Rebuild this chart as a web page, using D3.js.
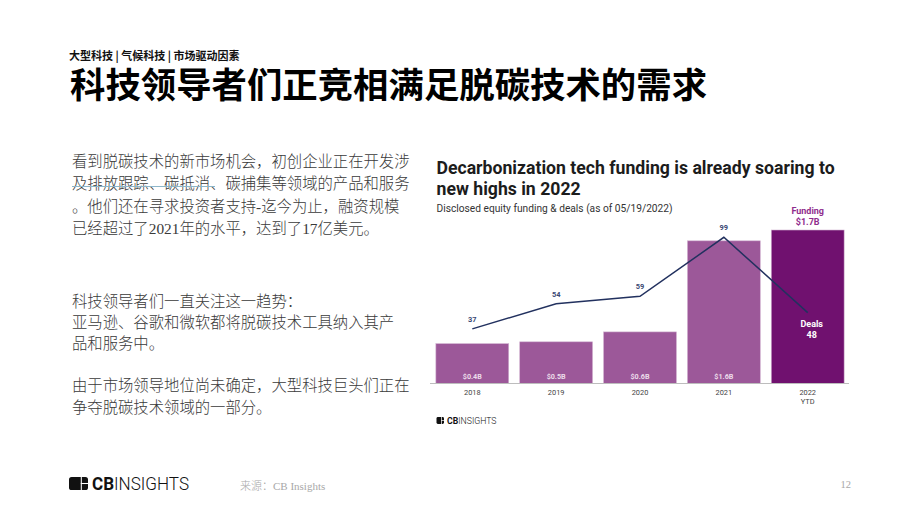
<!DOCTYPE html>
<html>
<head>
<meta charset="utf-8">
<script src="https://d3js.org/d3.v7.min.js"></script>
<style>
  html, body { margin: 0; padding: 0; background: #fff; }
  svg { display: block; }
  .cjk { font-family: "Noto Sans CJK SC", sans-serif; }
  .serif { font-family: "Liberation Serif", "Noto Sans CJK SC", serif; }
  .chart { font-family: Roboto, sans-serif; }
</style>
</head>
<body>
<script>
// chart values
var years = ["2018", "2019", "2020", "2021", "2022"];
var fundingValues = [0.44, 0.46, 0.57, 1.58, 1.7];
var fundingLabels = ["$0.4B", "$0.5B", "$0.6B", "$1.6B"];
var dealValues = [37, 54, 59, 99, 48];

// slide text
var kicker = "大型科技 | 气候科技 | 市场驱动因素";
var headline = "科技领导者们正竞相满足脱碳技术的需求";
var bodyLines = [
  "看到脱碳技术的新市场机会，初创企业正在开发涉",
  "及排放跟踪、碳抵消、碳捕集等领域的产品和服务",
  "。他们还在寻求投资者支持-迄今为止，融资规模",
  "已经超过了2021年的水平，达到了17亿美元。",
  "科技领导者们一直关注这一趋势：",
  "亚马逊、谷歌和微软都将脱碳技术工具纳入其产",
  "品和服务中。",
  "由于市场领导地位尚未确定，大型科技巨头们正在",
  "争夺脱碳技术领域的一部分。"
];
var bodyBaselines = [167, 189, 212, 234, 307, 328, 349, 391, 413];

var svg = d3.select("body").append("svg")
  .attr("width", 920)
  .attr("height", 518);

svg.append("rect").attr("width", 920).attr("height", 518).attr("fill", "#fff");

/* slide header and body */
svg.append("text").attr("class", "cjk")
  .attr("x", 69).attr("y", 59.5)
  .attr("font-size", 11).attr("font-weight", 700).attr("fill", "#111")
  .text(kicker);

svg.append("text").attr("class", "cjk")
  .attr("x", 70).attr("y", 98)
  .attr("font-size", 35.4).attr("font-weight", 700).attr("fill", "#000")
  .text(headline);

svg.selectAll("text.body").data(bodyLines).join("text")
  .attr("class", "body serif")
  .attr("x", 72)
  .attr("y", function(d, i) { return bodyBaselines[i]; })
  .attr("font-size", 15.35).attr("font-weight", 300).attr("fill", "#3a3a3a")
  .text(function(d) { return d; });

// stray underline across the second line
svg.append("line")
  .attr("x1", 72).attr("x2", 215).attr("y1", 186.5).attr("y2", 186.5)
  .attr("stroke", "#8db6c9").attr("stroke-width", 1.2);

/* chart */
var chart = svg.append("g").attr("class", "chart");

chart.append("text").attr("x", 436.5).attr("y", 174)
  .attr("font-size", 17.65).attr("font-weight", 700).attr("fill", "#1c1c1c")
  .text("Decarbonization tech funding is already soaring to");
chart.append("text").attr("x", 436.5).attr("y", 195)
  .attr("font-size", 17.65).attr("font-weight", 700).attr("fill", "#1c1c1c")
  .text("new highs in 2022");
chart.append("text").attr("x", 436.5).attr("y", 212)
  .attr("font-size", 10.2).attr("fill", "#333")
  .text("Disclosed equity funding & deals (as of 05/19/2022)");

var x = d3.scaleBand().domain(years).range([430, 850]).paddingInner(0.131).paddingOuter(0.07);
var yFunding = d3.scaleLinear().domain([0, 1.7]).range([383.3, 230]);
var yDeals = d3.scaleLinear().domain([0, 99]).range([383.5, 237.3]);

chart.selectAll("rect.bar").data(years).join("rect")
  .attr("class", "bar")
  .attr("x", function(d) { return x(d); })
  .attr("width", x.bandwidth())
  .attr("y", function(d, i) { return yFunding(fundingValues[i]); })
  .attr("height", function(d, i) { return yFunding(0) - yFunding(fundingValues[i]); })
  .attr("fill", function(d, i) { return i === 4 ? "#70116f" : "#9c5899"; })
  .attr("stroke", "#d2b4d1").attr("stroke-width", 0.6);

// baseline
chart.append("line")
  .attr("x1", 430).attr("x2", 849).attr("y1", 383.5).attr("y2", 383.5)
  .attr("stroke", "#bdbdbd").attr("stroke-width", 1);

var cx = function(d) { return x(d) + x.bandwidth() / 2; };

var line = d3.line()
  .x(function(d) { return cx(d); })
  .y(function(d, i) { return yDeals(dealValues[i]); });

chart.append("path").datum(years)
  .attr("d", line)
  .attr("fill", "none").attr("stroke", "#22315f").attr("stroke-width", 1.5);

// deal labels above the points, the last one sits inside the bar
chart.selectAll("text.deal").data(years.slice(0, 4)).join("text")
  .attr("class", "deal")
  .attr("x", cx)
  .attr("y", function(d, i) { return yDeals(dealValues[i]) - 7; })
  .attr("text-anchor", "middle")
  .attr("font-size", 7.4).attr("font-weight", 700).attr("fill", "#3a4874")
  .text(function(d, i) { return dealValues[i]; });

chart.append("text").attr("x", cx("2022") + 4).attr("y", 327)
  .attr("text-anchor", "middle").attr("font-size", 9).attr("font-weight", 700).attr("fill", "#fff")
  .text("Deals");
chart.append("text").attr("x", cx("2022") + 4).attr("y", 337.5)
  .attr("text-anchor", "middle").attr("font-size", 9).attr("font-weight", 700).attr("fill", "#fff")
  .text(dealValues[4]);

chart.selectAll("text.fund").data(fundingLabels).join("text")
  .attr("class", "fund")
  .attr("x", function(d, i) { return cx(years[i]); })
  .attr("y", 379)
  .attr("text-anchor", "middle")
  .attr("font-size", 7.2).attr("font-weight", 700).attr("fill", "#ecdcea")
  .text(function(d) { return d; });

chart.append("text").attr("x", cx("2022")).attr("y", 214)
  .attr("text-anchor", "middle").attr("font-size", 9).attr("font-weight", 700).attr("fill", "#8f2c8d")
  .text("Funding");
chart.append("text").attr("x", cx("2022")).attr("y", 225)
  .attr("text-anchor", "middle").attr("font-size", 9).attr("font-weight", 700).attr("fill", "#8f2c8d")
  .text("$" + fundingValues[4] + "B");

// x axis labels
chart.selectAll("text.year").data(years).join("text")
  .attr("class", "year")
  .attr("x", cx)
  .attr("y", 395)
  .attr("text-anchor", "middle")
  .attr("font-size", 7.4).attr("fill", "#444")
  .text(function(d) { return d; });
chart.append("text").attr("x", cx("2022")).attr("y", 403.5)
  .attr("text-anchor", "middle").attr("font-size", 7.4).attr("fill", "#444")
  .text("YTD");

/* logos */
function drawLogo(px, py, w, h, textX, textW, fontSize) {
  var g = svg.append("g").attr("transform", "translate(" + px + "," + py + ")");
  var bar = Math.max(0.7, h * 0.08);
  g.append("rect").attr("width", w).attr("height", h).attr("rx", h * 0.2).attr("fill", "#111");
  g.append("rect").attr("x", w * 0.62).attr("y", 0).attr("width", bar).attr("height", h).attr("fill", "#fff");
  g.append("rect").attr("x", w * 0.62).attr("y", h * 0.46).attr("width", w * 0.38).attr("height", bar).attr("fill", "#fff");
  var t = g.append("text").attr("x", textX).attr("y", h)
    .attr("font-family", "Roboto, sans-serif").attr("font-size", fontSize).attr("fill", "#111")
    .attr("textLength", textW).attr("lengthAdjust", "spacingAndGlyphs");
  t.append("tspan").attr("font-weight", 700).text("CB");
  t.append("tspan").attr("font-weight", 300).text("INSIGHTS");
}
drawLogo(69, 477, 19, 13, 23, 97, 18.2);
drawLogo(436.5, 417, 7.5, 7, 10.5, 49.5, 9.8);

/* footer */
svg.append("text").attr("class", "serif").attr("x", 240).attr("y", 489.5)
  .attr("font-size", 11).attr("font-weight", 300).attr("fill", "#a8a8a8")
  .text("来源：CB Insights");
svg.append("text").attr("x", 851).attr("y", 488)
  .attr("text-anchor", "end")
  .attr("font-family", "'Liberation Serif', serif")
  .attr("font-size", 10.5).attr("fill", "#a8a8a8")
  .text("12");
</script>
</body>
</html>
